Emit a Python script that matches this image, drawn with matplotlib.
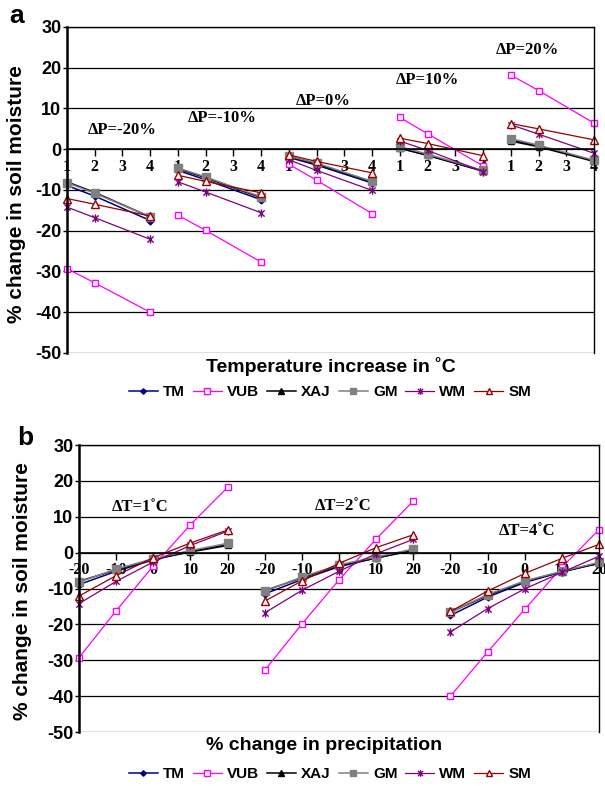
import matplotlib as mpl
mpl.use('Agg')
import matplotlib.pyplot as plt
from matplotlib.path import Path
from matplotlib.lines import Line2D

plt.rcParams['axes.unicode_minus'] = False

# soil moisture change (%), rows = dP (-20,-10,0,10,20), cols = dT (1,2,4)
dP = [-20, -10, 0, 10, 20]
dT = [1, 2, 4]
TM = [[-8.9, -11.5, -17.5], [-5.2, -7.5, -12.4], [-2.0, -3.9, -8.3], [0.3, -1.5, -5.4], [2.3, 0.8, -2.9]]
VUB = [[-29.3, -32.8, -40.0], [-16.2, -19.9, -27.7], [-3.7, -7.6, -15.8], [7.8, 3.8, -4.1], [18.2, 14.4, 6.4]]
XAJ = [[-8.0, -10.6, -16.6], [-4.8, -7.0, -11.9], [-1.8, -3.6, -8.0], [0.2, -1.5, -5.3], [2.0, 0.6, -3.0]]
GM = [[-8.2, -10.8, -16.6], [-4.6, -6.8, -11.7], [-1.7, -3.4, -7.9], [0.6, -1.2, -5.2], [2.6, 1.0, -2.7]]
WM = [[-14.2, -16.8, -22.1], [-8.0, -10.5, -15.6], [-2.6, -5.2, -10.1], [2.0, -0.3, -5.5], [6.0, 3.7, -1.0]]
SM = [[-12.1, -13.5, -16.4], [-6.4, -7.9, -10.7], [-1.4, -3.0, -5.8], [2.7, 1.4, -1.6], [6.3, 5.0, 2.3]]

star = Path([(0, -1), (0, 1), (-0.75, -0.75), (0.75, 0.75), (-0.75, 0.75), (0.75, -0.75)],
            [Path.MOVETO, Path.LINETO] * 3)

models = [
    ('TM', TM, dict(color='#000080', marker='D', ms=3.5, mfc='#000080', mec='#000080', lw=1.1)),
    ('VUB', VUB, dict(color='#ff00ff', marker='s', ms=5, mfc='white', mec='#ff00ff', mew=1, lw=0.9)),
    ('XAJ', XAJ, dict(color='black', marker='^', ms=5, mfc='black', mec='black', lw=1.1)),
    ('GM', GM, dict(color='#808080', marker='s', ms=5.5, mfc='#808080', mec='#808080', lw=1.1)),
    ('WM', WM, dict(color='#800080', marker=star, ms=6, mfc='none', mec='#800080', mew=1, lw=0.9)),
    ('SM', SM, dict(color='#990000', marker='^', ms=6, mfc='white', mec='#990000', mew=1, lw=0.9)),
]

serif = dict(family='Liberation Serif', weight='bold')
sans = dict(family='Liberation Sans', weight='bold')

fig = plt.figure(figsize=(6.05, 7.86), dpi=100)
ax1 = fig.add_axes([0.1107, 0.5509, 0.8711, 0.4148])
ax2 = fig.add_axes([0.1306, 0.0687, 0.8595, 0.3651])


def style_axis(ax, nx, labels):
    ax.set_ylim(-50, 30)
    ax.set_xlim(0, nx - 1)
    ax.set_yticks(range(-50, 31, 10))
    ax.grid(axis='y', color='black', lw=0.9)
    ax.set_axisbelow(True)
    ax.spines['bottom'].set_position(('data', 0))
    ax.spines['bottom'].set_linewidth(1.2)
    ax.spines['left'].set_linewidth(1.8)
    ax.spines['top'].set_linewidth(1.0)
    ax.spines['right'].set_linewidth(1.0)
    ax.set_xticks(range(nx))
    ax.set_xticklabels(labels, fontsize=11.5, **serif)
    ax.tick_params(axis='x', direction='out', length=5, width=1, pad=2)
    ax.tick_params(axis='y', length=3, width=1, pad=1)
    for t in ax.get_yticklabels():
        t.set_fontsize(13)
        t.set_fontfamily('Liberation Sans')
        t.set_fontweight('bold')


# panel a: x = temperature increase within each dP group
for name, data, kw in models:
    for g in range(len(dP)):
        xs = [4 * g + t - 1 for t in dT]
        ax1.plot(xs, data[g], clip_on=False, **kw)
style_axis(ax1, 20, ['1', '2', '3', '4'] * 5)
for g, (x, y) in enumerate([(2.0, 4.6), (5.6, 7.7), (9.25, 11.8), (13.0, 17.1), (16.6, 24.3)]):
    ax1.text(x, y, '\u0394P=%d%%' % dP[g], ha='center', va='center', fontsize=12, **serif)

# panel b: x = precipitation change within each dT group
for name, data, kw in models:
    for t in range(len(dT)):
        xs = [5 * t + i for i in range(len(dP))]
        ax2.plot(xs, [row[t] for row in data], clip_on=False, **kw)
style_axis(ax2, 15, [str(p) for p in dP] * 3)
for t, (x, y) in enumerate([(1.65, 12.7), (7.1, 13.0), (12.05, 6.0)]):
    ax2.text(x, y, '\u0394T=%d\u02daC' % dT[t], ha='center', va='center', fontsize=12, **serif)

# labels
fig.text(0.547, 1 - 367 / 786, 'Temperature increase in \u02daC', ha='center', va='center', fontsize=14, **sans)
fig.text(0.535, 1 - 746 / 786, '% change in precipitation', ha='center', va='center', fontsize=14, **sans)
fig.text(17 / 605, 1 - 194 / 786, '% change in soil moisture', rotation=90, ha='center', va='center', fontsize=15, **sans)
fig.text(23 / 605, 1 - 591 / 786, '% change in soil moisture', rotation=90, ha='center', va='center', fontsize=15, **sans)
fig.text(17 / 605, 1 - 16 / 786, 'a', ha='center', va='center', fontsize=19, **sans)
fig.text(25 / 605, 1 - 438 / 786, 'b', ha='center', va='center', fontsize=19, **sans)

# legends
handles = []
for name, data, kw in models:
    k = dict(kw)
    k['ms'] = k['ms'] * 0.8
    handles.append(Line2D([], [], label=name, **k))
for y in [1 - 392 / 786, 1 - 774 / 786]:
    fig.legend(handles=handles, loc='center', bbox_to_anchor=(330 / 605, y), ncol=6, frameon=False,
               handlelength=1.9, handletextpad=0.35, columnspacing=0.5,
               prop=dict(family='Liberation Sans', weight='bold', size=11))

plt.savefig('out.png', dpi=100)
